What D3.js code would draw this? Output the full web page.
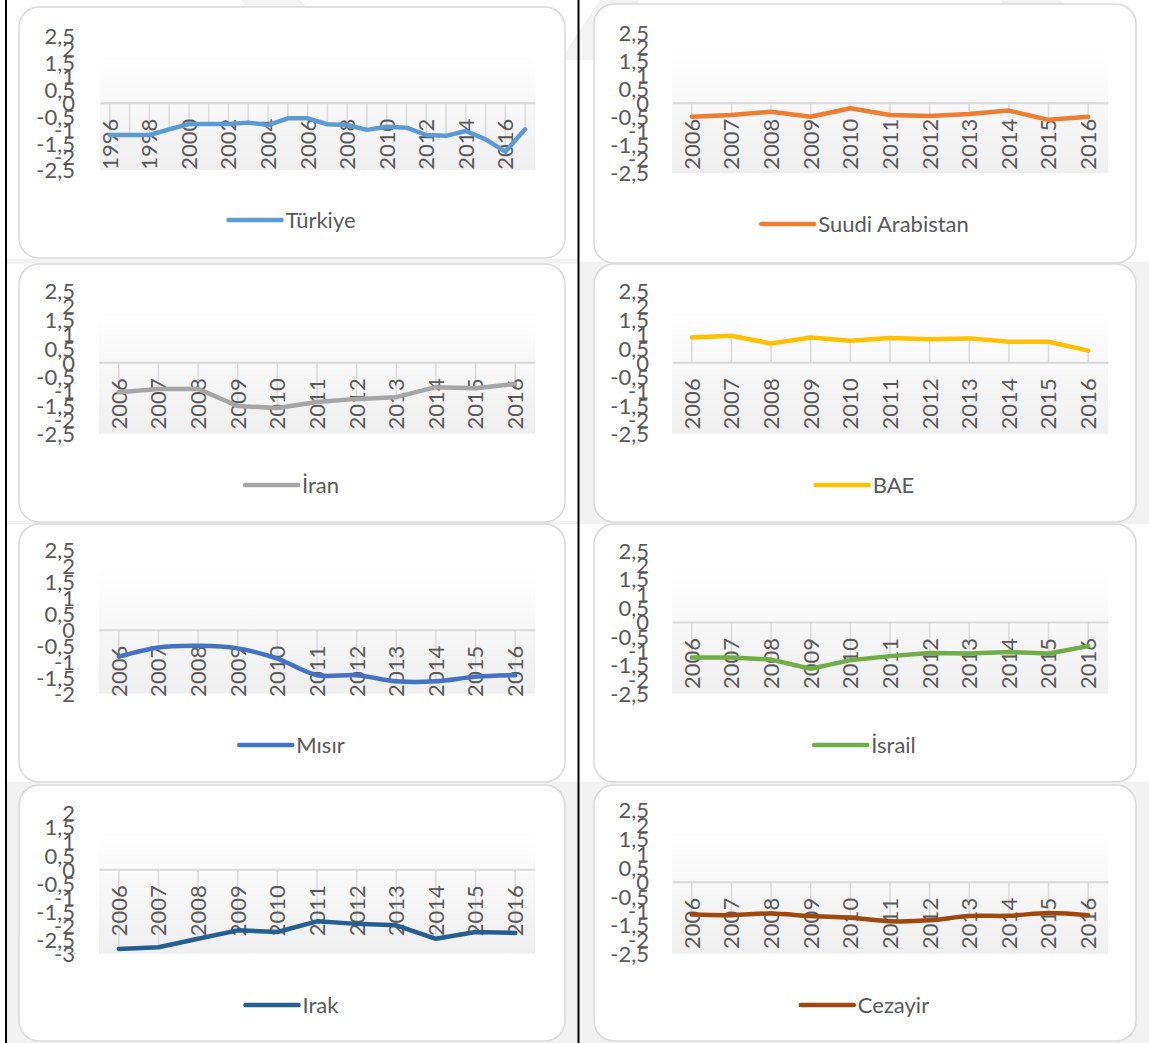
<!DOCTYPE html>
<html>
<head>
<meta charset="utf-8">
<script src="https://cdn.jsdelivr.net/npm/d3@7"></script>
<style>
  html, body { margin: 0; padding: 0; background: #ffffff; }
  svg { display: block; }
  text { font-family: Lato, "Open Sans", sans-serif; }
</style>
</head>
<body>
<div id="chart"></div>
<script>
// ---------------- DATA ----------------
const yearsTurkiye = ["1996","1997","1998","1999","2000","2001","2002","2003","2004","2005","2006",
                      "2007","2008","2009","2010","2011","2012","2013","2014","2015","2016","2017"];
const tickLabelsTurkiye = ["1996","1998","2000","2002","2004","2006","2008","2010","2012","2014","2016"];
const years = ["2006","2007","2008","2009","2010","2011","2012","2013","2014","2015","2016"];

const turkiye = [-1.20,-1.20,-1.20,-0.99,-0.79,-0.79,-0.79,-0.74,-0.83,-0.58,-0.58,
                 -0.80,-0.83,-1.01,-0.89,-0.93,-1.20,-1.23,-1.05,-1.36,-1.82,-0.99];
const suudiArabistan = [-0.50,-0.44,-0.32,-0.50,-0.20,-0.44,-0.47,-0.40,-0.28,-0.61,-0.50];
const iran    = [-1.05,-0.93,-0.93,-1.53,-1.60,-1.39,-1.28,-1.22,-0.87,-0.91,-0.76];
const bae     = [0.87,0.93,0.66,0.87,0.76,0.85,0.81,0.84,0.72,0.72,0.41];
const misir   = [-0.84,-0.55,-0.50,-0.58,-0.90,-1.42,-1.42,-1.61,-1.61,-1.47,-1.42];
const israil  = [-1.24,-1.24,-1.31,-1.63,-1.33,-1.19,-1.08,-1.10,-1.05,-1.10,-0.84];
const irak    = [-2.83,-2.77,-2.47,-2.17,-2.23,-1.85,-1.94,-1.99,-2.47,-2.23,-2.26];
const cezayir = [-1.14,-1.16,-1.10,-1.19,-1.25,-1.37,-1.34,-1.19,-1.18,-1.08,-1.16];

const ticksStd   = [2.5,2,1.5,1,0.5,0,-0.5,-1,-1.5,-2,-2.5];
const ticksMisir = [2.5,2,1.5,1,0.5,0,-0.5,-1,-1.5,-2];
const ticksIrak  = [2,1.5,1,0.5,0,-0.5,-1,-1.5,-2,-2.5,-3];

const seriesNames = ["Türkiye","Suudi Arabistan","İran","BAE","Mısır","İsrail","Irak","Cezayir"];
const seriesColors = ["#5B9BD5","#ED7D31","#A5A5A5","#FFC000","#4472C4","#70AD47","#255E91","#9E480E"];

// ---------------- LAYOUT ----------------
const W = 1149, H = 1043;
const svg = d3.select("#chart").append("svg").attr("width", W).attr("height", H);

const defs = svg.append("defs");
const grad = defs.append("linearGradient").attr("id","plotGrad").attr("x1",0).attr("y1",0).attr("x2",0).attr("y2",1);
grad.append("stop").attr("offset","0").attr("stop-color","#ffffff");
grad.append("stop").attr("offset","0.12").attr("stop-color","#ffffff");
grad.append("stop").attr("offset","0.5").attr("stop-color","#f8f8f8");
grad.append("stop").attr("offset","1").attr("stop-color","#efefef");

// background bands (table banding)
const bands = [
  {x:580, y:262, w:569, h:262},
  {x:580, y:782, w:569, h:261},
  {x:7,   y:782, w:571, h:261},
  {x:7,   y:259, w:571, h:5},
  {x:7,   y:521, w:571, h:3}
];
svg.selectAll("rect.band").data(bands).join("rect").attr("class","band")
  .attr("x", d=>d.x).attr("y", d=>d.y).attr("width", d=>d.w).attr("height", d=>d.h)
  .attr("fill", "#f2f2f2");

// faint page watermark
const wm = [
  [[240,0],[300,0],[340,40],[280,40]],
  [[560,60],[600,0],[640,0],[600,60]],
  [[1000,0],[1060,0],[1100,50],[1040,50]]
];
svg.selectAll("path.wm").data(wm).join("path").attr("class","wm")
  .attr("d", d => "M" + d.map(p => p.join(",")).join("L") + "Z")
  .attr("fill", "#f3f3f3");

const panels = [
  {cats: yearsTurkiye, ticksX: tickLabelsTurkiye, vals: turkiye, yt: ticksStd, card:[19,7,565,258],  px:[100,535],  py:[170,35.4],  lab:75,  leg:220, smooth:false},
  {cats: years, ticksX: years, vals: suudiArabistan, yt: ticksStd,   card:[594,4,1136,263],  px:[672,1108], py:[173,32.4],  lab:649, leg:224, smooth:false},
  {cats: years, ticksX: years, vals: iran,   yt: ticksStd,   card:[19,264,565,522],  px:[99,535],   py:[433.7,291],   lab:75,  leg:485, smooth:false},
  {cats: years, ticksX: years, vals: bae,    yt: ticksStd,   card:[594,264,1136,522],px:[672,1108], py:[433.7,291],   lab:649, leg:485, smooth:false},
  {cats: years, ticksX: years, vals: misir,  yt: ticksMisir, card:[19,524,565,782],  px:[99,535],   py:[693.7,550],   lab:75,  leg:745, smooth:true},
  {cats: years, ticksX: years, vals: israil, yt: ticksStd,   card:[594,524,1136,782],px:[672,1108], py:[693.7,550.3], lab:649, leg:745, smooth:false},
  {cats: years, ticksX: years, vals: irak,   yt: ticksIrak,  card:[19,785,565,1041], px:[99,535],   py:[953.7,813],   lab:75,  leg:1005, smooth:false},
  {cats: years, ticksX: years, vals: cezayir,yt: ticksStd,   card:[594,785,1136,1041],px:[672,1108],py:[953.7,810],   lab:649, leg:1005, smooth:true}
];

const fmt = v => String(v).replace(".", ",");
const txtColor = "#595959";
const gridColor = "#d9d9d9";

panels.forEach((p, i) => {
  const g = svg.append("g");
  const [cx0, cy0, cx1, cy1] = p.card;
  g.append("rect").attr("x", cx0).attr("y", cy0).attr("width", cx1 - cx0).attr("height", cy1 - cy0)
    .attr("rx", 20).attr("ry", 20).attr("fill", "#ffffff").attr("stroke", "#d9d9d9").attr("stroke-width", 1.5);

  const x = d3.scaleBand().domain(p.cats).range(p.px);
  const ext = d3.extent(p.yt);
  const y = d3.scaleLinear().domain(ext).range(p.py);
  const cxp = c => x(c) + x.bandwidth() / 2;

  // plot area background
  g.append("rect").attr("x", p.px[0]).attr("y", p.py[1]).attr("width", p.px[1] - p.px[0])
    .attr("height", p.py[0] - p.py[1]).attr("fill", "url(#plotGrad)");

  const data = p.cats.map((c, k) => ({c, v: p.vals[k]}));

  // drop lines
  g.selectAll("line.drop").data(data).join("line").attr("class","drop")
    .attr("x1", d => cxp(d.c)).attr("x2", d => cxp(d.c))
    .attr("y1", y(0)).attr("y2", d => y(d.v))
    .attr("stroke", gridColor).attr("stroke-width", 1.5);

  // category axis at zero
  const xa = g.append("g").attr("transform", `translate(0,${y(0)})`)
    .call(d3.axisBottom(x).tickValues(p.ticksX).tickSize(0));
  xa.select(".domain").attr("stroke", gridColor).attr("stroke-width", 2);
  xa.selectAll("text")
    .attr("transform", "rotate(-90)")
    .attr("text-anchor", "end")
    .attr("x", -16).attr("y", 0).attr("dy", "0.36em")
    .attr("fill", txtColor).attr("font-size", 22).attr("font-family", "Lato, sans-serif");

  // value axis labels
  const ya = g.append("g").attr("transform", `translate(${p.lab},0)`)
    .call(d3.axisLeft(y).tickValues(p.yt).tickFormat(fmt).tickSize(0).tickPadding(0));
  ya.select(".domain").remove();
  ya.selectAll("text").attr("fill", txtColor).attr("font-size", 22)
    .attr("font-family", "Lato, sans-serif").attr("dy", "0.36em");

  // series line
  const line = d3.line().x(d => cxp(d.c)).y(d => y(d.v))
    .curve(p.smooth ? d3.curveCatmullRom.alpha(0.5) : d3.curveLinear);
  g.append("path").datum(data).attr("d", line).attr("fill", "none")
    .attr("stroke", seriesColors[i]).attr("stroke-width", 4.5)
    .attr("stroke-linejoin", "round").attr("stroke-linecap", "round");

  // legend
  const lg = g.append("g");
  lg.append("line").attr("x1", 0).attr("x2", 53).attr("y1", 0).attr("y2", 0)
    .attr("stroke", seriesColors[i]).attr("stroke-width", 4.5).attr("stroke-linecap", "round");
  const lt = lg.append("text").attr("x", 57).attr("y", 0).attr("dy", "0.35em")
    .attr("fill", txtColor).attr("font-size", 22).text(seriesNames[i]);
  const tw = lt.node().getComputedTextLength();
  const total = 57 + tw;
  const centerX = (cx0 + cx1) / 2;
  lg.attr("transform", `translate(${centerX - total / 2},${p.leg})`);
});

// black table rules
svg.append("line").attr("x1", 6).attr("x2", 6).attr("y1", 0).attr("y2", H)
  .attr("stroke", "#000").attr("stroke-width", 2);
svg.append("line").attr("x1", 578.5).attr("x2", 578.5).attr("y1", 0).attr("y2", H)
  .attr("stroke", "#000").attr("stroke-width", 2);
</script>
</body>
</html>
